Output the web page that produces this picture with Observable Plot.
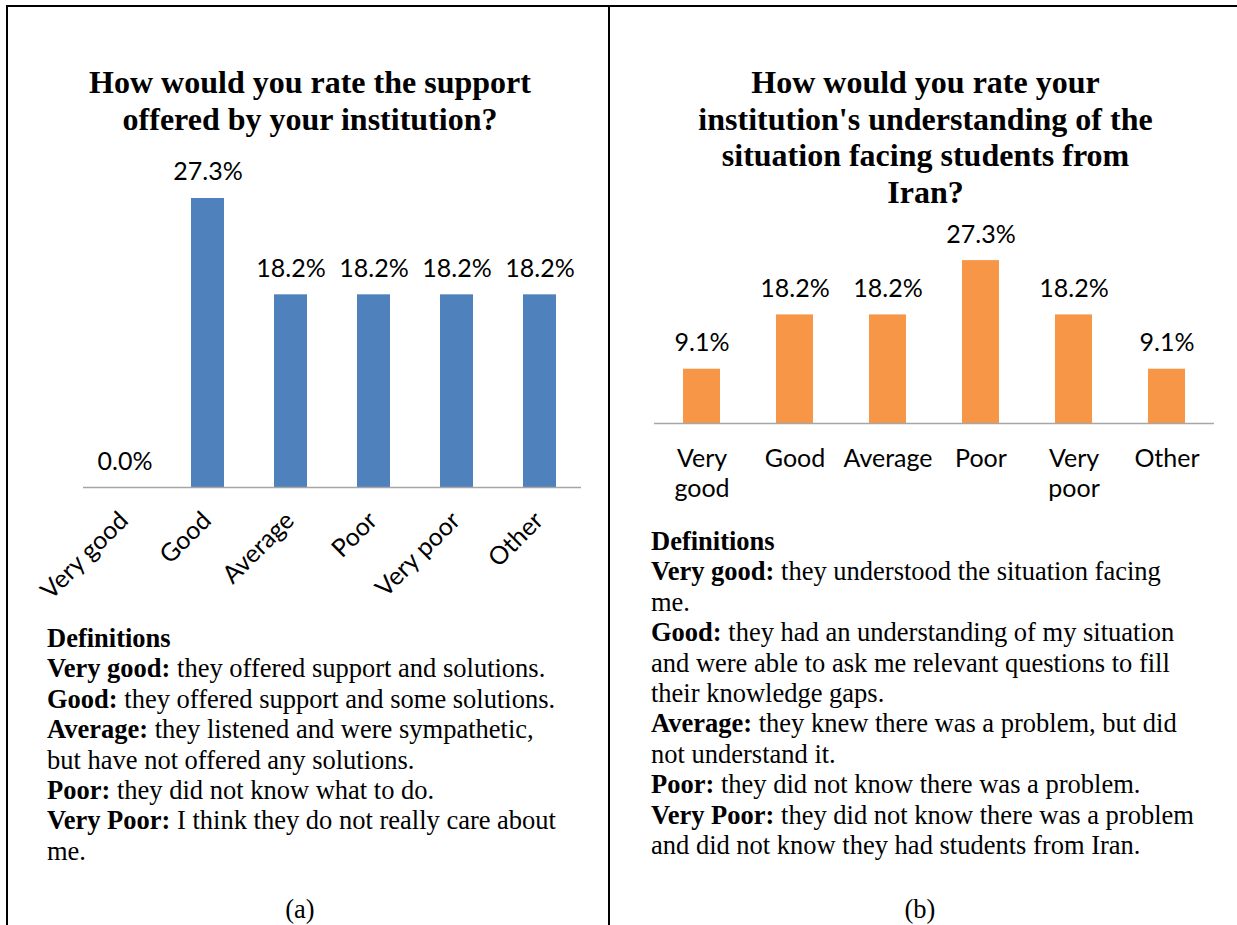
<!DOCTYPE html>
<html><head><meta charset="utf-8">
<script src="https://cdn.jsdelivr.net/npm/d3@7"></script>
<script src="https://cdn.jsdelivr.net/npm/@observablehq/plot@0.6"></script>
<style>
html,body{margin:0;padding:0;background:#fff}
body{width:1237px;height:925px;position:relative;overflow:hidden;font-family:"Liberation Serif","Times New Roman",serif;color:#000}
.abs{position:absolute}
.line{background:#000}
.title{font-weight:bold;font-size:32px;text-align:center;line-height:36.5px;white-space:nowrap}
.defs{font-size:26.5px;line-height:30.4px;white-space:nowrap}
.cap{font-size:26.5px;text-align:center}
svg{overflow:visible}
</style></head><body>
<div class="abs line" style="left:6px;top:5px;width:1231px;height:2px"></div>
<div class="abs line" style="left:6px;top:5px;width:2px;height:920px"></div>
<div class="abs line" style="left:608px;top:5px;width:2px;height:920px"></div>

<div id="titleA" class="abs title" style="left:10px;width:600px;top:64px"></div>
<div id="titleB" class="abs title" style="left:612px;width:627px;top:64px"></div>
<div id="chartA" class="abs" style="left:0;top:140px"></div>
<div id="chartB" class="abs" style="left:609px;top:210px"></div>
<div id="defsA" class="abs defs" style="left:47px;top:623px"></div>
<div id="defsB" class="abs defs" style="left:651px;top:526px"></div>
<div class="abs cap" style="left:0;width:600px;top:894px">(a)</div>
<div class="abs cap" style="left:610px;width:620px;top:894px">(b)</div>

<script>
// ---- data ----
const categories = ["Very good", "Good", "Average", "Poor", "Very poor", "Other"];
const supportValues = [0.0, 27.3, 18.2, 18.2, 18.2, 18.2];
const understandingValues = [9.1, 18.2, 18.2, 27.3, 18.2, 9.1];
const understandingTickLabels = ["Very\ngood", "Good", "Average", "Poor", "Very\npoor", "Other"];
const titleALines = ["How would you rate the support", "offered by your institution?"];
const titleBLines = ["How would you rate your", "institution's understanding of the", "situation facing students from", "Iran?"];
const defsALines = [
  ["Definitions", ""],
  ["Very good:", " they offered support and solutions."],
  ["Good:", " they offered support and some solutions."],
  ["Average:", " they listened and were sympathetic,"],
  ["", "but have not offered any solutions."],
  ["Poor:", " they did not know what to do."],
  ["Very Poor:", " I think they do not really care about"],
  ["", "me."]
];
const defsBLines = [
  ["Definitions", ""],
  ["Very good:", " they understood the situation facing"],
  ["", "me."],
  ["Good:", " they had an understanding of my situation"],
  ["", "and were able to ask me relevant questions to fill"],
  ["", "their knowledge gaps."],
  ["Average:", " they knew there was a problem, but did"],
  ["", "not understand it."],
  ["Poor:", " they did not know there was a problem."],
  ["Very Poor:", " they did not know there was a problem"],
  ["", "and did not know they had students from Iran."]
];

// ---- text blocks ----
function fillLines(id, lines) {
  const el = document.getElementById(id);
  lines.forEach(l => { const d = document.createElement("div"); d.textContent = l; el.appendChild(d); });
}
fillLines("titleA", titleALines);
fillLines("titleB", titleBLines);
function fillDefs(id, lines) {
  const el = document.getElementById(id);
  lines.forEach(([b, r]) => {
    const d = document.createElement("div");
    if (b) { const s = document.createElement("b"); s.textContent = b; d.appendChild(s); }
    d.appendChild(document.createTextNode(r || "\u00a0"));
    el.appendChild(d);
  });
}
fillDefs("defsA", defsALines);
fillDefs("defsB", defsBLines);

// ---- chart font sized to match reference text width ----
const labelFont = "Lato";
const ctx = document.createElement("canvas").getContext("2d");
ctx.font = `100px ${labelFont}`;
const fs = Math.round(89 * 100 / ctx.measureText("Average").width * 10) / 10;

const dataA = categories.map((c, i) => ({cat: c, value: supportValues[i]}));
const dataB = categories.map((c, i) => ({cat: c, value: understandingValues[i], tick: understandingTickLabels[i]}));
const fmt = v => v.toFixed(1) + "%";

const chartA = Plot.plot({
  width: 609, height: 490,
  marginLeft: 83, marginRight: 28, marginTop: 29.4, marginBottom: 143,
  style: {fontFamily: labelFont, background: "transparent", color: "#000"},
  x: {domain: categories, paddingInner: 0.6, paddingOuter: 0.3, label: null},
  y: {domain: [0, 30], axis: null},
  marks: [
    Plot.barY(dataA, {x: "cat", y: "value", fill: "#4f81bd"}),
    Plot.ruleY([0], {stroke: "#a6a6a6", strokeWidth: 1.5}),
    Plot.text(dataA, {x: "cat", y: "value", text: d => fmt(d.value), dy: -26, fontSize: fs, fill: "#000", lineAnchor: "middle"}),
    Plot.axisX({tickSize: 0, tickRotate: -45, tickPadding: 29, dx: -1, fontSize: fs, label: null, fill: "#000"})
  ]
});
document.getElementById("chartA").appendChild(chartA);

const chartB = Plot.plot({
  width: 628, height: 310,
  marginLeft: 45, marginRight: 23, marginTop: 34, marginBottom: 97,
  style: {fontFamily: labelFont, background: "transparent", color: "#000"},
  x: {domain: categories, paddingInner: 0.6, paddingOuter: 0.3, label: null},
  y: {domain: [0, 30], axis: null},
  marks: [
    Plot.barY(dataB, {x: "cat", y: "value", fill: "#f79646"}),
    Plot.ruleY([0], {stroke: "#a6a6a6", strokeWidth: 1.5}),
    Plot.text(dataB, {x: "cat", y: "value", text: d => fmt(d.value), dy: -26, fontSize: fs, fill: "#000", lineAnchor: "middle"}),
    Plot.axisX({tickSize: 0, tickPadding: 23, fontSize: fs, lineHeight: 1.17, label: null, fill: "#000",
      tickFormat: c => understandingTickLabels[categories.indexOf(c)]})
  ]
});
document.getElementById("chartB").appendChild(chartB);
</script>
</body></html>
